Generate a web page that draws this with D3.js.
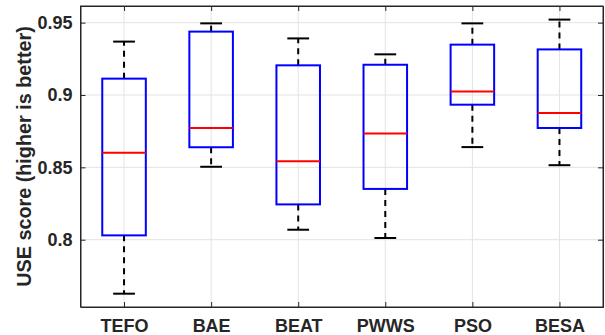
<!DOCTYPE html>
<html>
<head>
<meta charset="utf-8">
<script src="https://cdn.jsdelivr.net/npm/d3@7"></script>
<style>
  body { margin: 0; background: #fff; }
  svg text { font-family: "Liberation Sans", Arial, sans-serif; font-weight: bold; fill: #262626; }
</style>
</head>
<body>
<div id="chart"></div>
<script>
const categories = ["TEFO", "BAE", "BEAT", "PWWS", "PSO", "BESA"];
const whiskerLow = [0.7627, 0.8504, 0.8069, 0.8012, 0.8640, 0.8515];
const q1 = [0.8030, 0.8639, 0.8244, 0.8351, 0.8933, 0.8772];
const medians = [0.8601, 0.8772, 0.8543, 0.8734, 0.9025, 0.8875];
const q3 = [0.9113, 0.9438, 0.9205, 0.9209, 0.9348, 0.9315];
const whiskerHigh = [0.9369, 0.9495, 0.9391, 0.9281, 0.9495, 0.9521];
const yTicks = [0.8, 0.85, 0.9, 0.95];

const width = 605, height = 335;
const margin = { top: 6, right: 2, bottom: 28, left: 80.5 };
const innerW = width - margin.left - margin.right;
const innerH = height - margin.top - margin.bottom;

const svg = d3.select("#chart").append("svg")
    .attr("width", width)
    .attr("height", height);

const g = svg.append("g")
    .attr("transform", `translate(${margin.left},${margin.top})`);

const x = d3.scaleLinear().domain([0.5, categories.length + 0.5]).range([0, innerW]);
const y = d3.scaleLinear().domain([0.7535, 0.9615]).range([innerH, 0]);

const idx = d3.range(categories.length);

// grid
g.selectAll(".ygrid").data(yTicks).enter().append("line")
    .attr("x1", 0).attr("x2", innerW)
    .attr("y1", d => y(d)).attr("y2", d => y(d))
    .attr("stroke", "#e3e3e3").attr("stroke-width", 1);
g.selectAll(".xgrid").data(idx).enter().append("line")
    .attr("x1", i => x(i + 1)).attr("x2", i => x(i + 1))
    .attr("y1", 0).attr("y2", innerH)
    .attr("stroke", "#e3e3e3").attr("stroke-width", 1);

// axes (MATLAB style, ticks inside, boxed)
const axisColor = "#262626";
function styleAxis(sel, showText) {
    sel.select(".domain").attr("stroke", axisColor);
    sel.selectAll(".tick line").attr("stroke", axisColor);
    sel.selectAll(".tick text").style("font-size", "18px")
        .style("display", showText ? null : "none");
}

const yAxis = g.append("g")
    .call(d3.axisLeft(y).tickValues(yTicks).tickFormat(d => String(d))
        .tickSizeInner(-5).tickSizeOuter(0).tickPadding(8));
styleAxis(yAxis, true);

const yAxisR = g.append("g")
    .attr("transform", `translate(${innerW},0)`)
    .call(d3.axisRight(y).tickValues(yTicks).tickSizeInner(-5).tickSizeOuter(0));
styleAxis(yAxisR, false);

const xAxis = g.append("g")
    .attr("transform", `translate(0,${innerH})`)
    .call(d3.axisBottom(x).tickValues(idx.map(i => i + 1))
        .tickFormat(d => categories[d - 1])
        .tickSizeInner(-5).tickSizeOuter(0).tickPadding(12));
styleAxis(xAxis, true);
xAxis.selectAll(".tick text").attr("dy", "0.71em");

const xAxisT = g.append("g")
    .call(d3.axisTop(x).tickValues(idx.map(i => i + 1)).tickSizeInner(-5).tickSizeOuter(0));
styleAxis(xAxisT, false);

// y label
svg.append("text")
    .attr("transform", `translate(31,${margin.top + innerH / 2}) rotate(-90)`)
    .attr("text-anchor", "middle")
    .style("font-size", "19.8px")
    .text("USE score (higher is better)");

// boxes
const boxW = x(1.25) - x(1);
const capW = x(1.125) - x(1);

const boxes = g.selectAll(".box").data(idx).enter().append("g");

boxes.append("line")
    .attr("x1", i => x(i + 1)).attr("x2", i => x(i + 1))
    .attr("y1", i => y(q3[i])).attr("y2", i => y(whiskerHigh[i]))
    .attr("stroke", "#000").attr("stroke-width", 2).attr("stroke-dasharray", "6,5");
boxes.append("line")
    .attr("x1", i => x(i + 1)).attr("x2", i => x(i + 1))
    .attr("y1", i => y(q1[i])).attr("y2", i => y(whiskerLow[i]))
    .attr("stroke", "#000").attr("stroke-width", 2).attr("stroke-dasharray", "6,5");

boxes.append("line")
    .attr("x1", i => x(i + 1) - capW).attr("x2", i => x(i + 1) + capW)
    .attr("y1", i => y(whiskerHigh[i])).attr("y2", i => y(whiskerHigh[i]))
    .attr("stroke", "#000").attr("stroke-width", 2);
boxes.append("line")
    .attr("x1", i => x(i + 1) - capW).attr("x2", i => x(i + 1) + capW)
    .attr("y1", i => y(whiskerLow[i])).attr("y2", i => y(whiskerLow[i]))
    .attr("stroke", "#000").attr("stroke-width", 2);

boxes.append("rect")
    .attr("x", i => x(i + 1) - boxW)
    .attr("y", i => y(q3[i]))
    .attr("width", boxW * 2)
    .attr("height", i => y(q1[i]) - y(q3[i]))
    .attr("fill", "none")
    .attr("stroke", "#0000ff").attr("stroke-width", 2);

boxes.append("line")
    .attr("x1", i => x(i + 1) - boxW).attr("x2", i => x(i + 1) + boxW)
    .attr("y1", i => y(medians[i])).attr("y2", i => y(medians[i]))
    .attr("stroke", "#ff0000").attr("stroke-width", 2);

// frame on top
g.append("rect")
    .attr("width", innerW).attr("height", innerH)
    .attr("fill", "none").attr("stroke", axisColor).attr("stroke-width", 1);
</script>
</body>
</html>
